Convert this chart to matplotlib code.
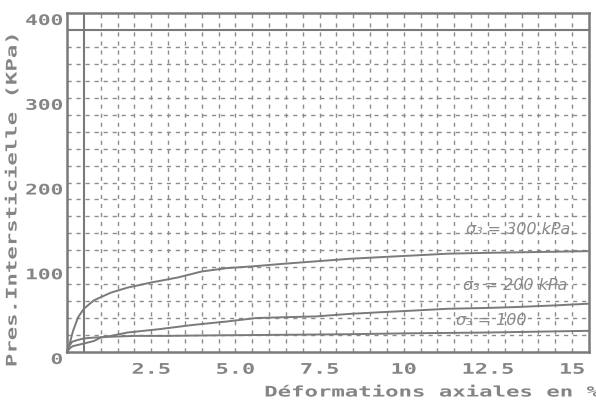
import numpy as np
import matplotlib
matplotlib.use("Agg")
import matplotlib.pyplot as plt
from matplotlib import patheffects
from matplotlib.transforms import Affine2D

# ---------------- data ----------------
x_s300 = [0, 0.08, 0.18, 0.33, 0.5, 0.8, 1.3, 1.8, 2.5, 3.3, 4.0, 4.75, 5.5,
          6.4, 7.4, 8.4, 9.35, 10.35, 11.3, 12.5, 14.0, 15.5]
y_s300 = [0, 10, 25, 41, 51, 61, 70, 76, 82, 88, 95, 99, 101,
          104, 107, 110, 112, 114, 116, 117, 118, 119]

x_s200 = [0, 0.1, 0.18, 0.5, 0.8, 1.0, 1.3, 1.8, 2.75, 3.75, 4.75, 5.6,
          6.4, 7.4, 8.4, 9.35, 10.35, 11.3, 12.5, 13.3, 14.5, 15.5]
y_s200 = [0, 5, 7, 10, 13, 17, 19, 23, 27, 32, 36, 40,
          41, 42, 45, 47, 49, 51, 52, 53, 55, 57]

x_s100 = [0, 0.05, 0.15, 0.3, 0.5, 0.8, 1.3, 2.0, 3.0, 4.0, 5.5, 7.0,
          8.4, 10.0, 11.3, 12.5, 14.0, 15.5]
y_s100 = [0, 6, 12, 14, 16, 17, 18, 19, 19, 19.5, 20, 20.5,
          21, 22, 22.5, 23, 24, 25]

xtick_vals = [2.5, 5.0, 7.5, 10, 12.5, 15]
xtick_labels = ["2.5", "5.0", "7.5", "10", "12.5", "15"]
ytick_vals = [0, 100, 200, 300, 400]
ytick_labels = ["0", "100", "200", "300", "400"]

annotations = ["σ₃ = 300 kPa", "σ₃ = 200 kPa", "σ₃ = 100"]
annot_x = [13.4, 13.3, 12.6]
annot_y = [144, 78, 37]

xlabel = "Déformations axiales en %"
ylabel = "Pres.Intersticielle (KPa)"

# ---------------- style ----------------
GRAY_TXT = "#858585"
GRAY_LINE = "#7a7a7a"
GRAY_GRID = "#8c8c8c"


class Stretch(patheffects.AbstractPathEffect):
    """Widen text along its reading direction (wide pixel font look)."""

    def __init__(self, sx=1.5, anchor="center"):
        super().__init__()
        self.sx = sx
        self.anchor = anchor

    def draw_path(self, renderer, gc, tpath, affine, rgbFace=None):
        ext = tpath.get_extents()
        if self.anchor == "right":
            cx = ext.x1
        elif self.anchor == "left":
            cx = ext.x0
        else:
            cx = 0.5 * (ext.x0 + ext.x1)
        t = Affine2D().translate(-cx, 0).scale(self.sx, 1).translate(cx, 0) + affine
        renderer.draw_path(gc, tpath, t, rgbFace)


fig = plt.figure(figsize=(5.96, 4.05), dpi=100)
fig.patch.set_facecolor("white")
ax = fig.add_axes([67 / 596, 53 / 405, 522 / 596, 339 / 405])

ax.set_xlim(0, 15.5)
ax.set_ylim(0, 400)

# grid
for gx in np.arange(1.0, 15.5, 0.5):
    ax.axvline(gx, color=GRAY_GRID, lw=1.0, ls=(0, (3, 3.5)), zorder=1)
for gy in np.arange(20, 380, 20):
    ax.axhline(gy, color=GRAY_GRID, lw=1.0, ls=(0, (3, 3.5)), zorder=1)
ax.axvline(0.5, color=GRAY_LINE, lw=1.5, zorder=2)
ax.axhline(380, color=GRAY_LINE, lw=1.5, zorder=2)

# curves
for xs, ys in [(x_s300, y_s300), (x_s200, y_s200), (x_s100, y_s100)]:
    ax.plot(xs, ys, color=GRAY_LINE, lw=1.4, zorder=3, clip_on=False)

# handwritten labels
for t, tx, ty in zip(annotations, annot_x, annot_y):
    ax.text(tx, ty, t, ha="center", va="center", fontsize=11.5,
            style="italic", color="#8a8a8a", family="DejaVu Sans", zorder=4)

for s in ax.spines.values():
    s.set_color(GRAY_LINE)
    s.set_linewidth(1.8)

ax.set_xticks(xtick_vals, xtick_labels)
ax.set_yticks(ytick_vals, ytick_labels)
ax.tick_params(axis="x", length=0, pad=7)
ax.tick_params(axis="y", length=0, pad=3)

font = dict(family="DejaVu Sans Mono", weight="bold", size=10.5, color=GRAY_TXT)

ax.set_xlabel(xlabel, **font)
ax.xaxis.label.set_va("center")
ax.xaxis.label.set_path_effects([Stretch(1.53, "center")])
ax.xaxis.set_label_coords((432 - 67) / 522, (352 - 392) / 339)

ax.set_ylabel(ylabel, **font)
ax.yaxis.label.set_va("center")
ax.yaxis.label.set_path_effects([Stretch(1.53, "center")])
ax.yaxis.set_label_coords((12 - 67) / 522, (352 - 200) / 339)

fig.canvas.draw()
for tk in ax.xaxis.get_major_ticks():
    tk.label1.set(**font)
    tk.label1.set_path_effects([Stretch(1.5, "center")])
for tk in ax.yaxis.get_major_ticks():
    tk.label1.set(**font)
    tk.label1.set_va("top")
    tk.label1.set_path_effects([Stretch(1.45, "right")])

fig.savefig("out.png", dpi=100)
